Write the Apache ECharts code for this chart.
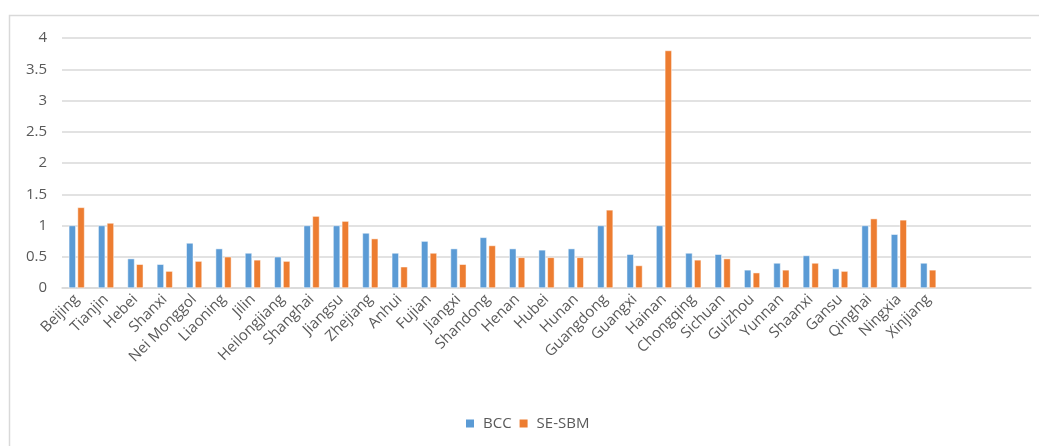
<!DOCTYPE html>
<html>
<head>
<meta charset="utf-8">
<script src="https://cdn.jsdelivr.net/npm/echarts@6/dist/echarts.min.js"></script>
<style>
html, body { margin: 0; padding: 0; background: #fff; }
#chart { width: 1039px; height: 446px; }
</style>
</head>
<body>
<div id="chart"></div>
<script>
// provinces (3 empty slots at the end, as in the source sheet)
var provinces = ['Beijing', 'Tianjin', 'Hebei', 'Shanxi', 'Nei Monggol', 'Liaoning', 'Jilin',
    'Heilongjiang', 'Shanghai', 'Jiangsu', 'Zhejiang', 'Anhui', 'Fujian', 'Jiangxi', 'Shandong',
    'Henan', 'Hubei', 'Hunan', 'Guangdong', 'Guangxi', 'Hainan', 'Chongqing', 'Sichuan', 'Guizhou',
    'Yunnan', 'Shaanxi', 'Gansu', 'Qinghai', 'Ningxia', 'Xinjiang', '', ' ', '  '];
var bccData = [1.0, 1.0, 0.47, 0.38, 0.72, 0.63, 0.56, 0.50, 1.0, 1.0,
    0.88, 0.56, 0.75, 0.63, 0.81, 0.63, 0.61, 0.63, 1.0, 0.54,
    1.0, 0.56, 0.54, 0.29, 0.40, 0.52, 0.31, 1.0, 0.86, 0.40];
var sesbmData = [1.29, 1.04, 0.38, 0.27, 0.43, 0.50, 0.45, 0.43, 1.15, 1.07,
    0.79, 0.34, 0.56, 0.38, 0.68, 0.49, 0.49, 0.49, 1.25, 0.36,
    3.80, 0.45, 0.47, 0.245, 0.29, 0.40, 0.27, 1.11, 1.09, 0.29];

var myChart = echarts.init(document.getElementById('chart'));
var font = 'Open Sans';

option = {
    animation: false,
    textStyle: { fontFamily: font },
    graphic: [{
        type: 'rect',
        shape: { x: 9.5, y: 15.5, width: 1100, height: 500 },
        style: { fill: 'none', stroke: '#d9d9d9', lineWidth: 1.5 }
    }],
    legend: {
        left: 459,
        top: 411,
        itemWidth: 10,
        itemHeight: 10,
        itemGap: 6,
        icon: 'rect',
        textStyle: { color: '#595959', fontSize: 15, fontFamily: font, padding: [0, 0, 0, 3] },
        data: ['BCC', 'SE-SBM']
    },
    grid: {
        left: 62,
        right: 8,
        top: 38,
        bottom: 158
    },
    xAxis: {
        type: 'category',
        data: provinces,
        axisLine: { lineStyle: { color: '#d9d9d9', width: 1.5 } },
        axisTick: { show: false },
        axisLabel: {
            interval: 0,
            rotate: 45,
            margin: 9,
            color: '#595959',
            fontSize: 15
        }
    },
    yAxis: {
        type: 'value',
        min: 0,
        max: 4,
        interval: 0.5,
        axisLine: { show: false },
        axisTick: { show: false },
        axisLabel: { color: '#595959', fontSize: 15, margin: 15 },
        splitLine: { lineStyle: { color: '#d9d9d9', width: 1.5 } }
    },
    series: [
        {
            name: 'BCC',
            type: 'bar',
            data: bccData,
            barWidth: 7,
            barGap: '25%',
            itemStyle: { color: '#5B9BD5', borderColor: '#ffffff', borderWidth: 0.5 }
        },
        {
            name: 'SE-SBM',
            type: 'bar',
            data: sesbmData,
            barWidth: 7,
            itemStyle: { color: '#ED7D31', borderColor: '#ffffff', borderWidth: 0.5 }
        }
    ]
};

myChart.setOption(option);
</script>
</body>
</html>
